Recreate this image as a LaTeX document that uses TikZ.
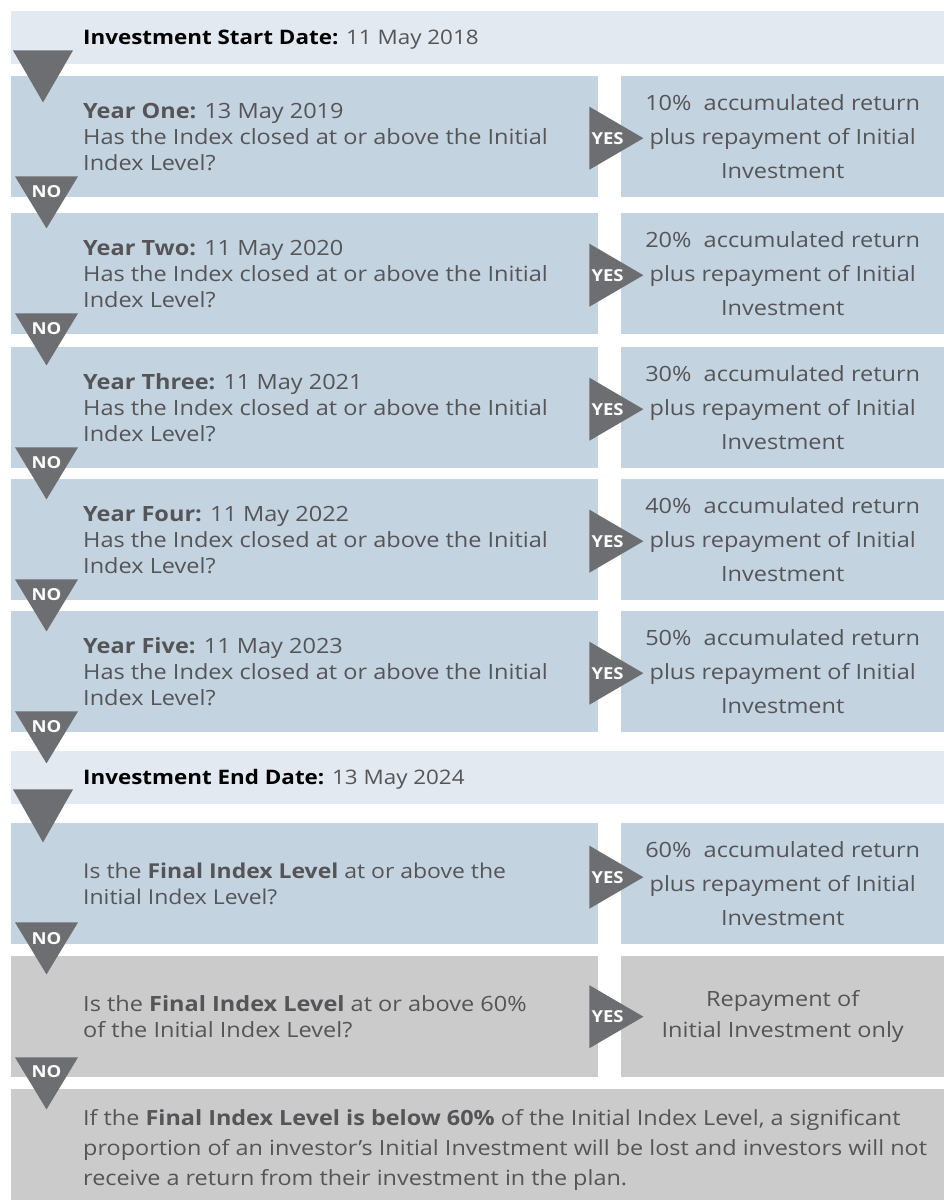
\documentclass[tikz,border=0pt]{standalone}
\usepackage{fontspec}
\setmainfont{Open Sans}[FakeStretch=1.12]
\usetikzlibrary{positioning}
\definecolor{hdr}{HTML}{E2E9F0}
\definecolor{qblue}{HTML}{C4D3E0}
\definecolor{qgrey}{HTML}{CBCBCB}
\definecolor{arr}{HTML}{6D6E71}
\definecolor{txt}{HTML}{555558}

\begin{document}
\begin{tikzpicture}[x=1pt,y=-1pt,
  hdrbox/.style={fill=hdr,minimum width=933pt,minimum height=53pt,anchor=north west,inner sep=0pt},
  qbox/.style={fill=#1,minimum width=587pt,minimum height=121pt,anchor=north west,inner sep=0pt},
  abox/.style={fill=#1,minimum width=323pt,minimum height=121pt,anchor=north west,inner sep=0pt},
  qtext/.style={anchor=west,align=left,text=txt,inner sep=0pt,font=\fontsize{21}{26}\selectfont},
  atext/.style={align=center,text=txt,inner sep=0pt,font=\fontsize{21}{34}\selectfont},
  tritext/.style={text=white,inner sep=0pt,font=\bfseries\fontsize{16.5}{16}\selectfont},
]
\useasboundingbox (0,0) rectangle (944,1200);
%Start date
\node[hdrbox] (start) at (11,11) {};
\node[qtext,font=\fontsize{20}{26}\selectfont] (starttext) at (83,39.5) {\textcolor{black}{\textbf{Investment Start Date:}} 11 May 2018};
%Years
\foreach \n/\top/\yr/\dt in {1/76/One/13 May 2019,2/213/Two/11 May 2020,3/347/Three/11 May 2021,4/479/Four/11 May 2022,5/611/Five/11 May 2023}
{
  \pgfmathparse{int(10*\n)}\let\pc\pgfmathresult
  \node[qbox=qblue] (q\n) at (11,\top) {};
  \node[abox=qblue] (a\n) at (621,\top) {};
  \node[qtext] (qt\n) at ([xshift=72pt]q\n.west) {\textbf{Year \yr:} \dt\\Has the Index closed at or above the Initial\\Index Level?};
  \node[atext] (at\n) at (a\n.center) {\pc\%~ accumulated return\\plus repayment of Initial\\Investment};
}
%End date
\node[hdrbox] (end) at (11,751) {};
\node[qtext,font=\fontsize{20}{26}\selectfont] (endtext) at (83,779.5) {\textcolor{black}{\textbf{Investment End Date:}} 13 May 2024};
%Final level
\node[qbox=qblue] (f1) at (11,823) {};
\node[abox=qblue] (fa1) at (621,823) {};
\node[qtext,font=\fontsize{20.5}{26}\selectfont] (ft1) at ([xshift=72pt]f1.west) {Is the \textbf{Final Index Level} at or above the\\Initial Index Level?};
\node[atext] (fat1) at (fa1.center) {60\%~ accumulated return\\plus repayment of Initial\\Investment};
%60 percent
\node[qbox=qgrey] (f2) at (11,956) {};
\node[abox=qgrey] (fa2) at (621,956) {};
\node[qtext] (ft2) at ([xshift=72pt]f2.west) {Is the \textbf{Final Index Level} at or above 60\%\\of the Initial Index Level?};
\node[atext,font=\fontsize{21}{31}\selectfont] (fat2) at (fa2.center) {Repayment of\\Initial Investment only};
%Below 60 percent
\node[fill=qgrey,minimum width=933pt,minimum height=111pt,anchor=north west,inner sep=0pt] (loss) at (11,1089) {};
\node[qtext,font=\fontsize{20.9}{30}\selectfont] (losstext) at (83,1150) {If the \textbf{Final Index Level is below 60\%} of the Initial Index Level, a significant\\proportion of an investor’s Initial Investment will be lost and investors will not\\receive a return from their investment in the plan.};
%arrows
\fill[arr] (start.south west) ++(2,-14) -- ++(60,0) -- ++(-30,52) -- cycle;
\fill[arr] (end.south west) ++(2,-15) -- ++(60,0) -- ++(-30,53) -- cycle;
\foreach \b/\dy/\dn in {q1/-1.5/0,q2/-1.5/0,q3/-1.5/0,q4/-1.5/0,q5/-1.5/0,f1/6.5/-1,f2/0/1}
{
  \pgfmathparse{-31.5-\dy}\let\ty\pgfmathresult
  \fill[arr] (\b.east) ++(-9,\ty) -- ++(54,31.5) -- ++(-54,31.5) -- cycle;
  \node[tritext,anchor=west] (yes\b) at ([xshift=-7pt,yshift=\dy pt]\b.east) {YES};
  \pgfmathparse{-21+\dn}\let\ny\pgfmathresult
  \fill[arr] (\b.south west) ++(4,\ny) -- ++(63,0) -- ++(-31.5,52) -- cycle;
  \node[tritext] (no\b) at ([xshift=35.5pt,yshift=6pt]\b.south west) {NO};
}
\end{tikzpicture}
\end{document}
